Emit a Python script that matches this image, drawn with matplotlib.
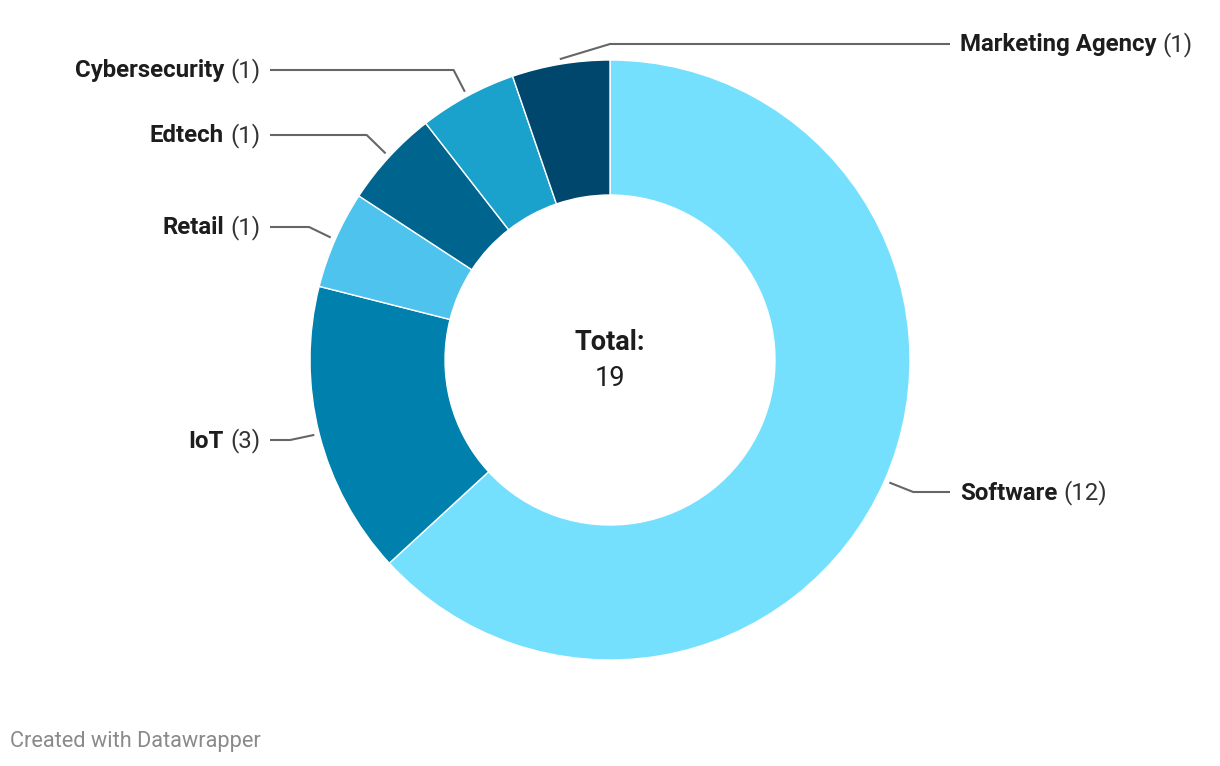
import numpy as np
import matplotlib
matplotlib.use("Agg")
import matplotlib.pyplot as plt

plt.rcParams['font.family'] = ['Roboto', 'DejaVu Sans']

# data
categories = ["Software", "IoT", "Retail", "Edtech", "Cybersecurity", "Marketing Agency"]
counts = [12, 3, 1, 1, 1, 1]
colors = ["#74e0fd", "#0081ad", "#4ec3ee", "#00658e", "#1aa2cc", "#00476e"]

# label layout (pixel rows from top, side of chart)
label_rows = [493, 441, 228, 136, 71, 45]
label_side = ["right", "left", "left", "left", "left", "right"]

W, H = 1220, 766
fig = plt.figure(figsize=(W / 100, H / 100), dpi=100)
ax = fig.add_axes([0, 0, 1, 1])

cx, cy = 610, H - 360
R, ring = 300, 135

wedges, _ = ax.pie(counts, colors=colors, startangle=90, counterclock=False,
                   radius=R, center=(cx, cy), frame=True,
                   wedgeprops=dict(width=ring, edgecolor="white", linewidth=1))
ax.set_xlim(0, W)
ax.set_ylim(0, H)
ax.set_aspect("equal")
ax.axis("off")

total = sum(counts)
ax.text(cx, cy + 17, "Total:", ha="center", va="center", fontsize=19.5,
        fontweight="bold", color="#1d1d1d")
ax.text(cx, cy - 19, str(total), ha="center", va="center", fontsize=19.5,
        color="#1d1d1d")

fig.canvas.draw()
renderer = fig.canvas.get_renderer()

fs = 17.3
line_kw = dict(color="#666666", lw=1.5, solid_capstyle="butt")
for w, name, n, row, side in zip(wedges, categories, counts, label_rows, label_side):
    mid = np.deg2rad((w.theta1 + w.theta2) / 2)
    dx, dy = np.cos(mid), np.sin(mid)
    sx, sy = cx + (R + 5) * dx, cy + (R + 5) * dy
    ly = H - row
    if (side == "right") == (dx > 0):
        t = abs((ly - sy) / dy) if abs(dy) > 1e-6 else 0
        ex = sx + t * dx
    else:
        ex = cx
    if side == "right":
        ax.plot([sx, ex, 950], [sy, ly + 1, ly + 1], **line_kw)
        t1 = ax.text(960, ly, name, ha="left", va="center", fontsize=fs,
                     fontweight="bold", color="#1d1d1d")
        bb = t1.get_window_extent(renderer)
        ax.text(bb.x1 + 6, ly, f"({n})", ha="left", va="center", fontsize=fs,
                color="#333333")
    else:
        ax.plot([sx, ex, 270], [sy, ly + 1, ly + 1], **line_kw)
        t2 = ax.text(260, ly, f"({n})", ha="right", va="center", fontsize=fs,
                     color="#333333")
        bb = t2.get_window_extent(renderer)
        ax.text(bb.x0 - 6, ly, name, ha="right", va="center", fontsize=fs,
                fontweight="bold", color="#1d1d1d")

ax.text(10, H - 742, "Created with Datawrapper", ha="left", va="center",
        fontsize=15.7, color="#8a8a8a")

fig.savefig("out.png", dpi=100)
